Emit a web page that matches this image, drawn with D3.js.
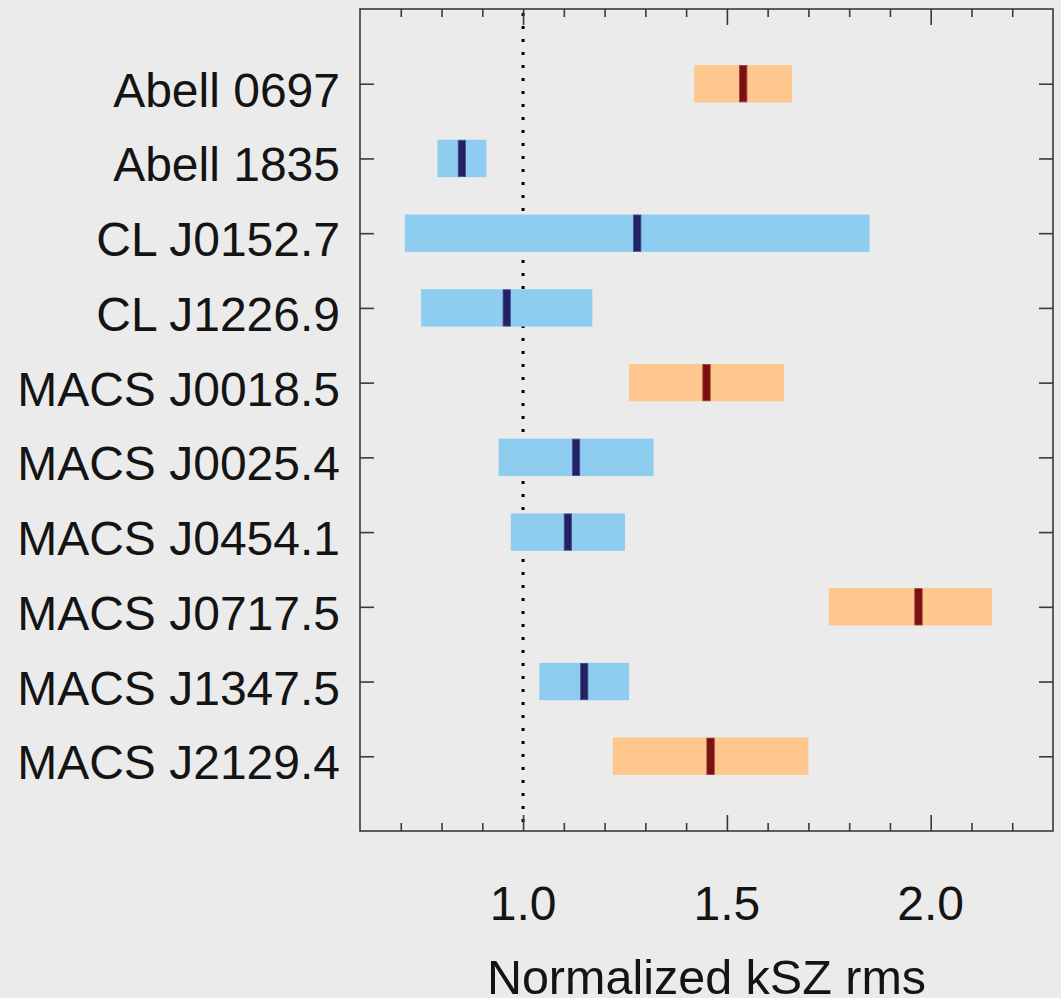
<!DOCTYPE html>
<html>
<head>
<meta charset="utf-8">
<script src="https://cdn.jsdelivr.net/npm/d3@7"></script>
<style>
  html, body { margin: 0; padding: 0; background: #ebebeb; }
  svg { display: block; }
  text { font-family: "Liberation Sans", Arial, Helvetica, sans-serif; fill: #141414; }
</style>
</head>
<body>
<svg id="chart" width="1061" height="998"></svg>
<script>
// Cluster names, top to bottom
const clusters = [
  "Abell 0697", "Abell 1835", "CL J0152.7", "CL J1226.9", "MACS J0018.5",
  "MACS J0025.4", "MACS J0454.1", "MACS J0717.5", "MACS J1347.5", "MACS J2129.4"
];
// Normalized kSZ rms: lower bound, upper bound, median
const lower  = [1.42, 0.79, 0.71, 0.75, 1.26, 0.94, 0.97, 1.75, 1.04, 1.22];
const upper  = [1.66, 0.91, 1.85, 1.17, 1.64, 1.32, 1.25, 2.15, 1.26, 1.70];
const median = [1.54, 0.85, 1.28, 0.96, 1.45, 1.13, 1.11, 1.97, 1.15, 1.46];
// Whether the cluster shows an excess over the expected rms
const excess = [true, false, false, false, true, false, false, true, false, true];

const majorTicks = [1.0, 1.5, 2.0];
const minorTicks = [0.7, 0.8, 0.9, 1.1, 1.2, 1.3, 1.4, 1.6, 1.7, 1.8, 1.9, 2.1, 2.2];
const tickLabels = ["1.0", "1.5", "2.0"];
const xTitle = "Normalized kSZ rms";
const reference = 1.0;

(function draw() {
  const rows = clusters.map((name, i) => ({
    name, lo: lower[i], hi: upper[i], med: median[i], excess: excess[i]
  }));

  const pLeft = 360, pRight = 1053, pTop = 9, pBottom = 831;
  const svg = d3.select("#chart");

  const x = d3.scaleLinear().domain([0.6, 2.3]).range([pLeft, pRight]);
  const y = d3.scalePoint().domain(clusters).range([pTop, pBottom]).padding(1);
  const halfH = y.step() * 0.25;

  const colors = {
    barBlue: "#8ecdf0", medBlue: "#222263",
    barOrange: "#fec78d", medRed: "#7b0f12"
  };

  // Reference line at rms = 1
  svg.append("line")
    .attr("x1", x(reference)).attr("x2", x(reference))
    .attr("y1", pTop + 4).attr("y2", pBottom)
    .attr("stroke", "#000").attr("stroke-width", 3)
    .attr("stroke-dasharray", "3,10");

  // Range bars
  svg.append("g").selectAll("rect")
    .data(rows).join("rect")
    .attr("x", d => x(d.lo))
    .attr("width", d => x(d.hi) - x(d.lo))
    .attr("y", d => y(d.name) - halfH)
    .attr("height", halfH * 2)
    .attr("fill", d => d.excess ? colors.barOrange : colors.barBlue);

  // Median marks
  svg.append("g").selectAll("rect")
    .data(rows).join("rect")
    .attr("x", d => x(d.med) - 3.7)
    .attr("width", 7.4)
    .attr("y", d => y(d.name) - halfH + 0.5)
    .attr("height", halfH * 2 - 1)
    .attr("fill", d => d.excess ? colors.medRed : colors.medBlue)
    .attr("stroke", d => d.excess ? "#a04040" : "#4a4f99")
    .attr("stroke-width", 0.8);

  // Frame
  const axisColor = "#3a3a3a";
  svg.append("rect")
    .attr("x", pLeft).attr("y", pTop)
    .attr("width", pRight - pLeft).attr("height", pBottom - pTop)
    .attr("fill", "none").attr("stroke", axisColor).attr("stroke-width", 1.6);

  function styleAxis(g) {
    g.select(".domain").remove();
    g.selectAll(".tick line").attr("stroke", axisColor).attr("stroke-width", 1.6);
    g.selectAll(".tick text").remove();
  }

  // Inward ticks on all four sides
  svg.append("g").attr("transform", `translate(0,${pBottom})`)
    .call(d3.axisBottom(x).tickValues(minorTicks).tickSize(-8)).call(styleAxis);
  svg.append("g").attr("transform", `translate(0,${pBottom})`)
    .call(d3.axisBottom(x).tickValues(majorTicks).tickSize(-16)).call(styleAxis);
  svg.append("g").attr("transform", `translate(0,${pTop})`)
    .call(d3.axisTop(x).tickValues(minorTicks).tickSize(-8)).call(styleAxis);
  svg.append("g").attr("transform", `translate(0,${pTop})`)
    .call(d3.axisTop(x).tickValues(majorTicks).tickSize(-16)).call(styleAxis);
  svg.append("g").attr("transform", `translate(${pLeft},0)`)
    .call(d3.axisLeft(y).tickSize(-14)).call(styleAxis);
  svg.append("g").attr("transform", `translate(${pRight},0)`)
    .call(d3.axisRight(y).tickSize(-14)).call(styleAxis);

  // Cluster labels
  svg.append("g").selectAll("text")
    .data(clusters).join("text")
    .attr("x", pLeft - 20)
    .attr("y", d => y(d) + 23)
    .attr("text-anchor", "end")
    .attr("font-size", 48)
    .text(d => d);

  // X tick labels
  svg.append("g").selectAll("text")
    .data(majorTicks).join("text")
    .attr("x", d => x(d))
    .attr("y", 920)
    .attr("text-anchor", "middle")
    .attr("font-size", 48)
    .text((d, i) => tickLabels[i]);

  // X axis title
  svg.append("text")
    .attr("x", (pLeft + pRight) / 2)
    .attr("y", 994)
    .attr("text-anchor", "middle")
    .attr("font-size", 48.5)
    .text(xTitle);
})();
</script>
</body>
</html>
